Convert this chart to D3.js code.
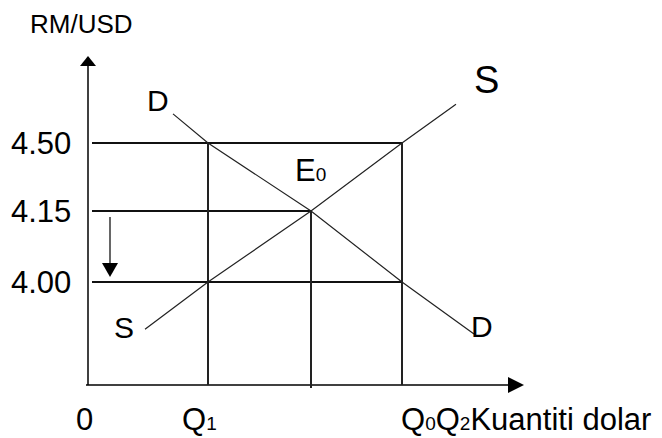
<!DOCTYPE html>
<html>
<head>
<meta charset="utf-8">
<script src="https://cdn.jsdelivr.net/npm/d3@7.9.0/dist/d3.min.js"></script>
<style>
  html, body { margin: 0; padding: 0; background: #fff; }
  svg text { font-family: "Liberation Sans", Arial, sans-serif; fill: #000; }
</style>
</head>
<body>
<svg id="chart" width="662" height="438"></svg>
<script>
// exchange rate levels (RM per USD) and quantities of dollars (schematic units)
const priceLevels = [4.50, 4.15, 4.00];
const priceLabels = ["4.50", "4.15", "4.00"];
const qtyNames = ["Q1", "Q0", "Q2"];
const qtyValues = [1.2, 2.23, 3.14];

// demand curve D (downward) and supply curve S (upward)
const demandQ = [0.85, 1.2, 2.23, 3.14, 3.86];
const demandP = [4.65, 4.50, 4.15, 4.00, 3.89];
const supplyQ = [0.57, 1.2, 2.23, 3.14, 3.68];
const supplyP = [3.90, 4.00, 4.15, 4.50, 4.70];

// guide lines: [price, quantity where the horizontal line stops]
const hGuides = [[4.50, 3.14], [4.15, 2.23], [4.00, 3.14]];
// vertical guides: [quantity, price where the line starts]
const vGuides = [[1.2, 4.50], [2.23, 4.15], [3.14, 4.50]];

const svg = d3.select('#chart');

const originX = 88, originY = 385;
const x = d3.scaleLinear().domain([0, 4.2]).range([originX, 508]);
// schematic price axis: levels spaced evenly, not proportionally
const y = d3.scaleLinear().domain([4.00, 4.15, 4.50]).range([282, 211, 143]);

// axes with arrow heads
svg.append('line')
    .attr('x1', originX).attr('y1', originY)
    .attr('x2', originX).attr('y2', 64)
    .attr('stroke', '#000').attr('stroke-width', 1.5);
svg.append('path')
    .attr('d', `M${originX - 8},66 L${originX + 8},66 L${originX},56 Z`)
    .attr('fill', '#000');
svg.append('line')
    .attr('x1', originX - 2).attr('y1', originY)
    .attr('x2', x(4.2)).attr('y2', originY)
    .attr('stroke', '#000').attr('stroke-width', 1.5);
svg.append('path')
    .attr('d', `M${x(4.2)},${originY - 8} L${x(4.2)},${originY + 8} L${x(4.2) + 16},${originY} Z`)
    .attr('fill', '#000');

// horizontal guide lines
hGuides.forEach(([p, q]) => {
    svg.append('line')
        .attr('x1', originX + 4).attr('y1', y(p))
        .attr('x2', x(q)).attr('y2', y(p))
        .attr('stroke', '#111').attr('stroke-width', 2);
});

// vertical guide lines
vGuides.forEach(([q, p], i) => {
    svg.append('line')
        .attr('x1', x(q)).attr('y1', y(p))
        .attr('x2', x(q)).attr('y2', i === 1 ? originY + 3 : originY)
        .attr('stroke', '#222').attr('stroke-width', 2);
});

// D and S curves
const line = d3.line().x(d => x(d[0])).y(d => y(d[1]));
svg.append('path')
    .attr('d', line(d3.zip(demandQ, demandP)))
    .attr('fill', 'none').attr('stroke', '#222').attr('stroke-width', 1.2);
svg.append('path')
    .attr('d', line(d3.zip(supplyQ, supplyP)))
    .attr('fill', 'none').attr('stroke', '#222').attr('stroke-width', 1.2);

// small arrow showing the fall from 4.15 to 4.00
const ax = 110;
svg.append('line')
    .attr('x1', ax).attr('y1', y(4.15) + 6)
    .attr('x2', ax).attr('y2', y(4.00) - 16)
    .attr('stroke', '#000').attr('stroke-width', 1.2);
svg.append('path')
    .attr('d', `M${ax - 8},${y(4.00) - 19} L${ax + 8},${y(4.00) - 19} L${ax},${y(4.00) - 5} Z`)
    .attr('fill', '#000');

// price labels
svg.selectAll('text.price')
    .data(priceLevels)
    .join('text')
    .attr('class', 'price')
    .attr('x', 11)
    .attr('y', d => y(d) + 11)
    .attr('font-size', 31)
    .text((d, i) => priceLabels[i]);

svg.append('text').attr('x', 30).attr('y', 33).attr('font-size', 26).text('RM/USD');

// curve labels
svg.append('text').attr('x', 147).attr('y', 111).attr('font-size', 30).text('D');
svg.append('text').attr('x', 471).attr('y', 337).attr('font-size', 30).text('D');
svg.append('text').attr('x', 474).attr('y', 93).attr('font-size', 38).text('S');
svg.append('text').attr('x', 114).attr('y', 338).attr('font-size', 30).text('S');

const e0 = svg.append('text').attr('x', 295).attr('y', 181).attr('font-size', 31);
e0.append('tspan').text('E');
e0.append('tspan').attr('font-size', 19).text('0');

// quantity labels
svg.append('text').attr('x', 76).attr('y', 430).attr('font-size', 31).text('0');

const q1 = svg.append('text').attr('x', 182).attr('y', 430).attr('font-size', 31);
q1.append('tspan').text(qtyNames[0][0]);
q1.append('tspan').attr('font-size', 19).text(qtyNames[0][1]);

const qx = svg.append('text').attr('x', 401).attr('y', 430).attr('font-size', 31);
qx.append('tspan').text(qtyNames[1][0]);
qx.append('tspan').attr('font-size', 19).text(qtyNames[1][1]);
qx.append('tspan').text(qtyNames[2][0]);
qx.append('tspan').attr('font-size', 19).text(qtyNames[2][1]);
qx.append('tspan').text('Kuantiti dolar');
</script>
</body>
</html>
